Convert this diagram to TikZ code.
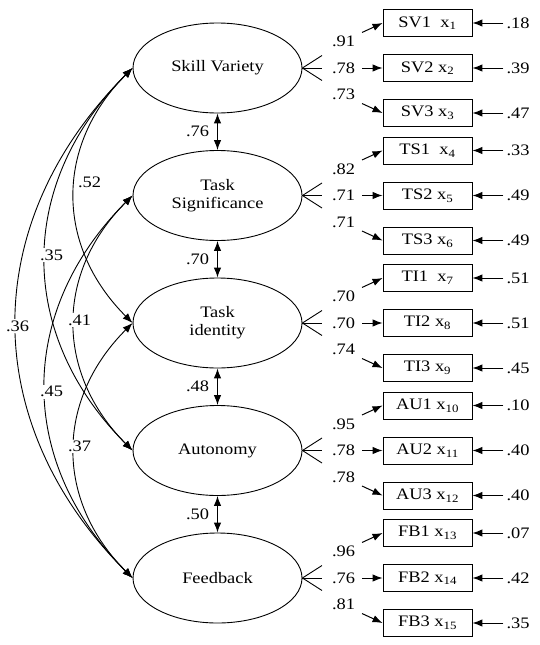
\documentclass[tikz,border=0pt]{standalone}
\usepackage{fontspec}
\setmainfont{Liberation Serif}[FakeStretch=1.15]
\usetikzlibrary{arrows.meta,shapes.geometric}

\begin{document}
\begin{tikzpicture}[x=1pt,y=1pt,
  every node/.style={font=\fontsize{16}{18}\selectfont},
  factor/.style={draw,line width=0.9pt,ellipse,minimum width=169pt,minimum height=90pt,inner sep=0pt,align=center},
  indicator/.style={draw,line width=0.9pt,minimum width=89pt,minimum height=27pt,inner sep=0pt},
  num/.style={inner sep=2pt},
  lbl/.style={fill=white,inner sep=1.5pt},
  ptr/.style={-{Latex[length=10pt,width=7.5pt]},line width=1pt},
  twoway/.style={{Latex[length=10pt,width=7.5pt]}-{Latex[length=10pt,width=7.5pt]},line width=1pt},
  cov/.style={{Latex[length=10pt,width=7.5pt]}-{Latex[length=10pt,width=7.5pt]},line width=0.9pt,out=225,in=135,looseness=1.1},
  fan/.style={line width=0.9pt}]

\fill[white] (0,0) rectangle (540,-645);
\useasboundingbox (0,0) rectangle (540,-645);

% latent factors
\node[factor] (f1) at (217.5,-68)    {Skill Variety};
\node[factor] (f2) at (217.5,-195.5) {Task\\Significance};
\node[factor] (f3) at (217.5,-323)   {Task\\identity};
\node[factor] (f4) at (217.5,-450.5) {Autonomy};
\node[factor] (f5) at (217.5,-578)   {Feedback};

% correlations between adjacent factors
\draw[twoway] (f1.south) -- node[left=6pt,num]{.76} (f2.north);
\draw[twoway] (f2.south) -- node[left=6pt,num]{.70} (f3.north);
\draw[twoway] (f3.south) -- node[left=6pt,num]{.48} (f4.north);
\draw[twoway] (f4.south) -- node[left=6pt,num]{.50} (f5.north);

% correlations between non-adjacent factors
\draw[cov] (f1.west) to node[lbl,xshift=15pt,yshift=13pt]{.52} (f3.west);
\draw[cov] (f1.west) to node[lbl,xshift=6pt,yshift=4pt]{.35} (f4.west);
\draw[cov] (f1.west) to node[lbl,xshift=1pt,yshift=-3pt]{.36} (f5.west);
\draw[cov] (f2.west) to node[lbl,xshift=5pt,yshift=3pt]{.41} (f4.west);
\draw[cov] (f2.west) to node[lbl,xshift=6pt,yshift=-5pt]{.45} (f5.west);
\draw[cov] (f3.west) to node[lbl,xshift=5pt,yshift=4pt]{.37} (f5.west);

% indicators, loadings and error terms
\foreach \idx/\ttl/\ld/\er in {
  1/{SV1\ \ x\textsubscript{1}}/.91/.18,
  2/{SV2 x\textsubscript{2}}/.78/.39,
  3/{SV3 x\textsubscript{3}}/.73/.47,
  4/{TS1\ \ x\textsubscript{4}}/.82/.33,
  5/{TS2 x\textsubscript{5}}/.71/.49,
  6/{TS3 x\textsubscript{6}}/.71/.49,
  7/{TI1\ \ x\textsubscript{7}}/.70/.51,
  8/{TI2 x\textsubscript{8}}/.70/.51,
  9/{TI3 x\textsubscript{9}}/.74/.45,
  10/{AU1 x\textsubscript{10}}/.95/.10,
  11/{AU2 x\textsubscript{11}}/.78/.40,
  12/{AU3 x\textsubscript{12}}/.78/.40,
  13/{FB1 x\textsubscript{13}}/.96/.07,
  14/{FB2 x\textsubscript{14}}/.76/.42,
  15/{FB3 x\textsubscript{15}}/.81/.35} {
  \pgfmathtruncatemacro\grp{int((\idx-1)/3)}
  \pgfmathtruncatemacro\fac{\grp+1}
  \pgfmathtruncatemacro\pos{\idx-2-3*\grp}
  \pgfmathsetmacro\cy{68+127.5*\grp}
  \node[indicator] (x\idx) at (427.5,{-\cy-45*\pos}) {\ttl};
  \node[num,inner sep=3pt] (e\idx) at (518,{-\cy-45*\pos}) {\er};
  \draw[ptr] (e\idx) -- (x\idx);
  \coordinate (s\idx) at (362,{-\cy-35.5*\pos});
  \draw[ptr] (s\idx) -- (x\idx.west);
  \node[num] (l\idx) at (343.5,{-\cy-26.5*\pos}) {\ld};
  \coordinate (t\idx) at (322,{-\cy-12.5*\pos});
  \draw[fan] (f\fac.east) -- (t\idx);
}
\end{tikzpicture}
\end{document}
